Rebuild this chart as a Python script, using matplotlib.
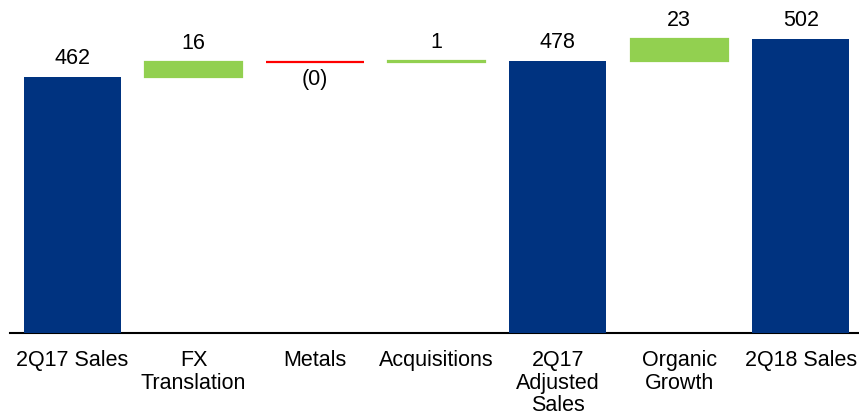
import matplotlib
matplotlib.use("Agg")
import matplotlib.pyplot as plt
import numpy as np

plt.rcParams['font.family'] = ['Liberation Sans', 'DejaVu Sans']

categories = ['2Q17 Sales', 'FX\nTranslation', 'Metals', 'Acquisitions',
              '2Q17\nAdjusted\nSales', 'Organic\nGrowth', '2Q18 Sales']
kinds = ['total', 'delta', 'delta', 'delta', 'total', 'delta', 'total']
values = [462.3, 15.6, -0.2, 0.6, 478.3, 22.9, 501.6]
labels = ['462', '16', '(0)', '1', '478', '23', '502']

navy = '#003380'
green = '#92D050'
red = '#FF0000'
fs = 15.5

fig = plt.figure(figsize=(8.59, 4.15), dpi=100)
ax = fig.add_axes([0.012, 0.197, 0.988, 0.803])

x = np.arange(len(categories))
running = 0
for i, (k, v, lab) in enumerate(zip(kinds, values, labels)):
    if k == 'total':
        ax.bar(x[i], v, width=0.8, color=navy)
        running = v
        ax.text(x[i], v + 8, lab, ha='center', va='bottom', fontsize=fs)
    else:
        c = green if v >= 0 else red
        ax.bar(x[i], v, bottom=running, width=0.8, color=c,
               edgecolor=c, linewidth=1.6)
        if v >= 0:
            ax.text(x[i], running + v + 8, lab, ha='center', va='bottom', fontsize=fs)
        else:
            ax.text(x[i], running + v - 7, lab, ha='center', va='top', fontsize=fs)
        running += v

ax.set_ylim(200, 541)
ax.set_xlim(-0.51, 6.48)
ax.set_xticks(x)
ax.set_xticklabels(categories, fontsize=fs, linespacing=1.1)
ax.tick_params(axis='x', length=0, pad=12)
ax.set_yticks([])
for s in ['top', 'right', 'left']:
    ax.spines[s].set_visible(False)
ax.spines['bottom'].set_linewidth(1.5)
ax.spines['bottom'].set_zorder(0)

fig.savefig('out.png', dpi=100)
